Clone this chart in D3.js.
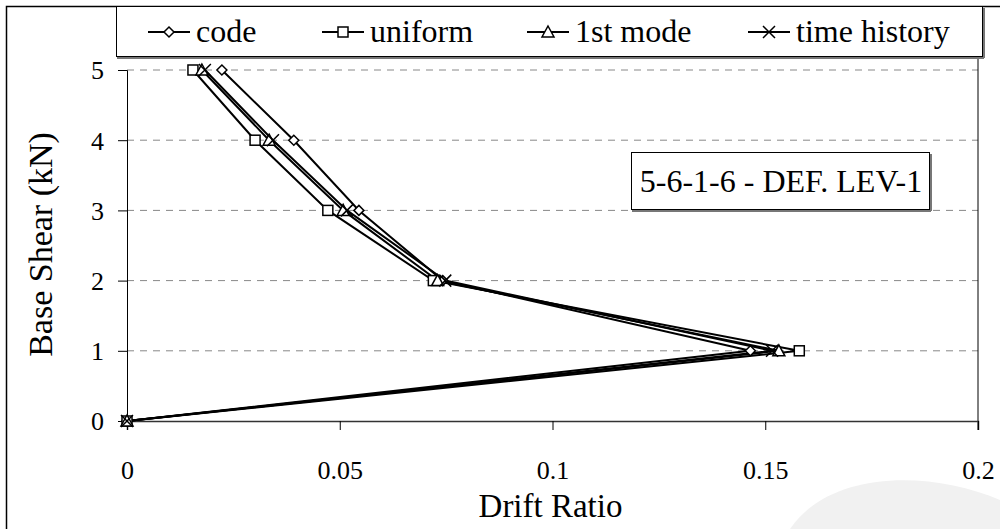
<!DOCTYPE html>
<html><head><meta charset="utf-8">
<script src="https://cdn.jsdelivr.net/npm/d3@7"></script>
</head><body style="margin:0"><svg id="c" width="1000" height="529"></svg>
<script>
const levels = [0, 1, 2, 3, 4, 5];
const codeDrift = [0, 0.1465, 0.0742, 0.0545, 0.0392, 0.0223];
const uniformDrift = [0, 0.1580, 0.0720, 0.0472, 0.0301, 0.0155];
const firstModeDrift = [0, 0.1532, 0.0730, 0.0508, 0.0334, 0.0176];
const timeHistoryDrift = [0, 0.1516, 0.0748, 0.0517, 0.0343, 0.0183];
const seriesNames = ["code", "uniform", "1st mode", "time history"];
const markerTypes = ["diamond", "square", "triangle", "cross"];
const xTicks = [0, 0.05, 0.1, 0.15, 0.2];
const xTickLabels = ["0", "0.05", "0.1", "0.15", "0.2"];
const yTicks = [0, 1, 2, 3, 4, 5];
const annotation = "5-6-1-6 - DEF. LEV-1";

const FONT = "Liberation Serif";
const svg = d3.select("#c");
const L = 127, R = 978, T = 70, B = 421;
const x = d3.scaleLinear().domain([0, 0.2]).range([L, R]);
const y = d3.scaleLinear().domain([0, 5]).range([B, T]);

svg.append("rect").attr("x", 6.5).attr("y", 6.5).attr("width", 1000).attr("height", 540)
  .attr("fill", "none").attr("stroke", "#000").attr("stroke-width", 1.5);
svg.append("path").attr("d", "M790,529 C830,470 930,470 1000,500 L1000,529 Z").attr("fill", "#f1f1f1");

svg.append("g").selectAll("line").data(yTicks.filter(d => d > 0)).join("line")
  .attr("x1", L).attr("x2", R).attr("y1", d => y(d)).attr("y2", d => y(d))
  .attr("stroke", "#888").attr("stroke-width", 1).attr("stroke-dasharray", "7,6");
svg.append("line").attr("x1", R).attr("x2", R).attr("y1", 56).attr("y2", B + 9).attr("stroke", "#000").attr("stroke-width", 1);

const xAxis = d3.axisBottom(x).tickValues(xTicks).tickFormat((d, i) => xTickLabels[i]).tickSize(9);
const gx = svg.append("g").attr("transform", `translate(0,${B})`).call(xAxis);
gx.attr("font-family", FONT).attr("font-size", 26);
gx.select(".domain").attr("stroke", "#333").attr("stroke-width", 1.5);
gx.selectAll(".tick line").attr("stroke", "#000");
gx.selectAll("text").attr("dy", null).attr("y", 58).attr("fill", "#000");

const yAxis = d3.axisLeft(y).tickValues(yTicks).tickFormat(d3.format("d")).tickSize(9).tickPadding(14);
const gy = svg.append("g").attr("transform", `translate(${L},0)`).call(yAxis);
gy.attr("font-family", FONT).attr("font-size", 26);
gy.select(".domain").attr("stroke", "#000").attr("stroke-width", 1);
gy.selectAll(".tick line").attr("stroke", "#000");
gy.selectAll("text").attr("dy", "0.34em").attr("fill", "#000");

svg.append("text").attr("x", (L + R) / 2 - 2).attr("y", 517).attr("text-anchor", "middle")
  .attr("font-size", 33).attr("font-family", FONT).text("Drift Ratio");
svg.append("text").attr("transform", `translate(52,${(T + B) / 2 - 1}) rotate(-90)`).attr("text-anchor", "middle")
  .attr("font-size", 34).attr("font-family", FONT).text("Base Shear (kN)");

svg.append("rect").attr("x", 631.5).attr("y", 152.5).attr("width", 298).attr("height", 57).attr("fill", "#fff").attr("stroke", "#000").attr("stroke-width", 1);
svg.append("line").attr("x1", 632).attr("x2", 931).attr("y1", 211).attr("y2", 211).attr("stroke", "#777").attr("stroke-width", 2);
svg.append("line").attr("x1", 931).attr("x2", 931).attr("y1", 154).attr("y2", 211).attr("stroke", "#777").attr("stroke-width", 2);
svg.append("text").attr("x", 781).attr("y", 192).attr("text-anchor", "middle")
  .attr("font-size", 32).attr("font-family", FONT).text(annotation);

function marker(g, type, cx, cy) {
  const s = 5;
  if (type === "diamond") g.append("path").attr("d", `M${cx},${cy - s}L${cx + s},${cy}L${cx},${cy + s}L${cx - s},${cy}Z`).attr("fill", "#fff").attr("stroke", "#000").attr("stroke-width", 1.5);
  else if (type === "square") g.append("rect").attr("x", cx - 5).attr("y", cy - 5).attr("width", 10).attr("height", 10).attr("fill", "#fff").attr("stroke", "#000").attr("stroke-width", 1.5);
  else if (type === "triangle") g.append("path").attr("d", `M${cx},${cy - 6}L${cx + 6},${cy + 5}L${cx - 6},${cy + 5}Z`).attr("fill", "#fff").attr("stroke", "#000").attr("stroke-width", 1.5);
  else g.append("path").attr("d", `M${cx - 6},${cy - 6}L${cx + 6},${cy + 6}M${cx + 6},${cy - 6}L${cx - 6},${cy + 6}`).attr("stroke", "#000").attr("stroke-width", 1.5);
}

const allSeries = [codeDrift, uniformDrift, firstModeDrift, timeHistoryDrift];
const line = d3.line().x(d => x(d[0])).y(d => y(d[1]));
allSeries.forEach((vals) => {
  const pts = vals.map((v, i) => [v, levels[i]]);
  svg.append("path").datum(pts).attr("d", line).attr("fill", "none").attr("stroke", "#000").attr("stroke-width", 2);
});
allSeries.forEach((vals, si) => {
  const g = svg.append("g");
  vals.forEach((v, i) => marker(g, markerTypes[si], x(v), y(levels[i])));
});

svg.append("rect").attr("x", 116.5).attr("y", 6.5).attr("width", 866).attr("height", 50).attr("fill", "#fff").attr("stroke", "#000").attr("stroke-width", 1);
svg.append("line").attr("x1", 117).attr("x2", 984).attr("y1", 58).attr("y2", 58).attr("stroke", "#777").attr("stroke-width", 2);
svg.append("line").attr("x1", 984).attr("x2", 984).attr("y1", 8).attr("y2", 58).attr("stroke", "#777").attr("stroke-width", 2);
const legX = [148, 322, 527, 748];
seriesNames.forEach((n, i) => {
  const g = svg.append("g");
  g.append("line").attr("x1", legX[i]).attr("x2", legX[i] + 42).attr("y1", 32).attr("y2", 32).attr("stroke", "#000").attr("stroke-width", 2);
  marker(g, markerTypes[i], legX[i] + 21, 32);
  g.append("text").attr("x", legX[i] + 48).attr("y", 42).attr("font-size", 32).attr("font-family", FONT).text(n);
});
</script></body></html>
